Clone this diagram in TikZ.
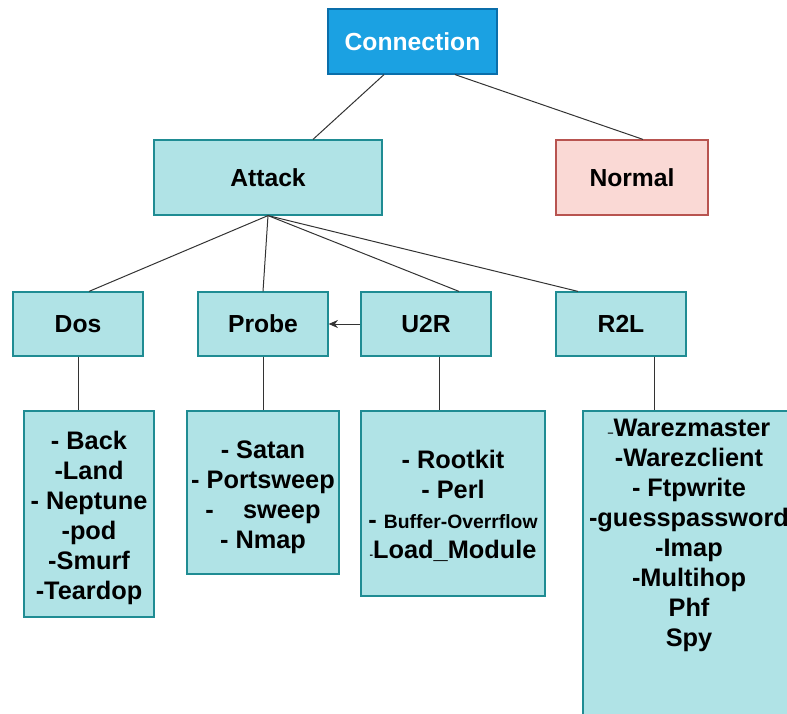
\documentclass[tikz,border=0pt]{standalone}
\usepackage{fontspec}
\setmainfont{Liberation Sans}
\usetikzlibrary{arrows.meta,calc}
\definecolor{rootfill}{HTML}{1BA1E2}
\definecolor{rootline}{HTML}{0A6EAA}
\definecolor{tealfill}{HTML}{B0E3E6}
\definecolor{tealline}{HTML}{1F8C93}
\definecolor{pinkfill}{HTML}{FAD9D5}
\definecolor{pinkline}{HTML}{B85450}
\definecolor{wire}{HTML}{333333}
\begin{document}
\begin{tikzpicture}[x=0.75pt,y=-0.75pt,
  box/.style={rectangle,draw=tealline,fill=tealfill,line width=0.9pt,
    inner sep=0pt,font=\fontsize{18.5}{22.5}\selectfont\bfseries,align=center},
  rootbox/.style={box,draw=rootline,fill=rootfill,text=white},
  pinkbox/.style={box,draw=pinkline,fill=pinkfill},
  listbox/.style={box},
  listtext/.style={font=\fontsize{19}{22.5}\selectfont\bfseries,align=center,inner sep=0pt},
  wirestyle/.style={draw=wire,line width=0.75pt}]
\useasboundingbox (0,0) rectangle (787,713);

% top levels
\node[rootbox,minimum width=126.75pt,minimum height=48.75pt] (conn) at (412.5,41.5) {Connection};
\node[box,minimum width=171pt,minimum height=56.25pt] (attack) at (268,177.5) {Attack};
\node[pinkbox,minimum width=114pt,minimum height=56.25pt] (normal) at (632,177.5) {Normal};

% attack classes
\node[box,minimum width=97.5pt,minimum height=48pt] (dos) at (78,324) {Dos};
\node[box,minimum width=97.5pt,minimum height=48pt] (probe) at (263,324) {Probe};
\node[box,minimum width=97.5pt,minimum height=48pt] (u2r) at (426,324) {U2R};
\node[box,minimum width=97.5pt,minimum height=48pt] (r2l) at (621,324) {R2L};

% attack lists: boxes
\node[listbox,minimum width=97.5pt,minimum height=154.5pt] (doslist) at (89,514) {};
\node[listbox,minimum width=114pt,minimum height=122.25pt] (probelist) at (263,492.5) {};
\node[listbox,minimum width=138pt,minimum height=138.75pt] (u2rlist) at (453,503.5) {};
\node[listbox,minimum width=159pt,minimum height=239.25pt] (r2llist) at (689,570.5) {};

% attack lists: entries
\node[listtext] (dostext) at (89,518)
  {- Back\\-Land\\- Neptune\\-pod\\-Smurf\\-Teardop};
\node[listtext] (probetext) at (263,497.5)
  {- Satan\\- Portsweep\\-\hspace{1.15em}sweep\\- Nmap};
\node[listtext] (u2rtext) at (453,505.5)
  {- Rootkit\\- Perl\\- {\fontsize{14.5}{22.5}\selectfont Buffer-Overrflow}\\{\fontsize{8}{10}\selectfont -}Load\_Module};
\node[listtext] (r2ltext) at (689,535)
  {{\fontsize{8}{10}\selectfont --}Warezmaster\\-Warezclient\\- Ftpwrite\\-guesspassword\\-Imap\\-Multihop\\Phf\\Spy};

% tree connectors
\draw[wirestyle] ($(conn.south)+(-28.5,0)$) -- ($(attack.north)+(45,0)$);
\draw[wirestyle] ($(conn.south)+(42.5,0)$) -- ($(normal.north)+(11,0)$);
\draw[wirestyle] (attack.south) -- ($(dos.north)+(11,0)$);
\draw[wirestyle] (attack.south) -- (probe.north);
\draw[wirestyle] (attack.south) -- ($(u2r.north)+(33,0)$);
\draw[wirestyle] (attack.south) -- ($(r2l.north)+(-43,0)$);
\draw[wirestyle,-{Stealth[length=7pt,width=6pt]}] (u2r.west) -- (probe.east);

\draw[wirestyle] (dos.south) -- (dos.south |- doslist.north);
\draw[wirestyle] (probe.south) -- (probelist.north);
\draw[wirestyle] ($(u2r.south)+(13,0)$) coordinate (u2rfoot) -- (u2rfoot |- u2rlist.north);
\draw[wirestyle] ($(r2l.south)+(33,0)$) coordinate (r2lfoot) -- (r2lfoot |- r2llist.north);
\end{tikzpicture}
\end{document}
